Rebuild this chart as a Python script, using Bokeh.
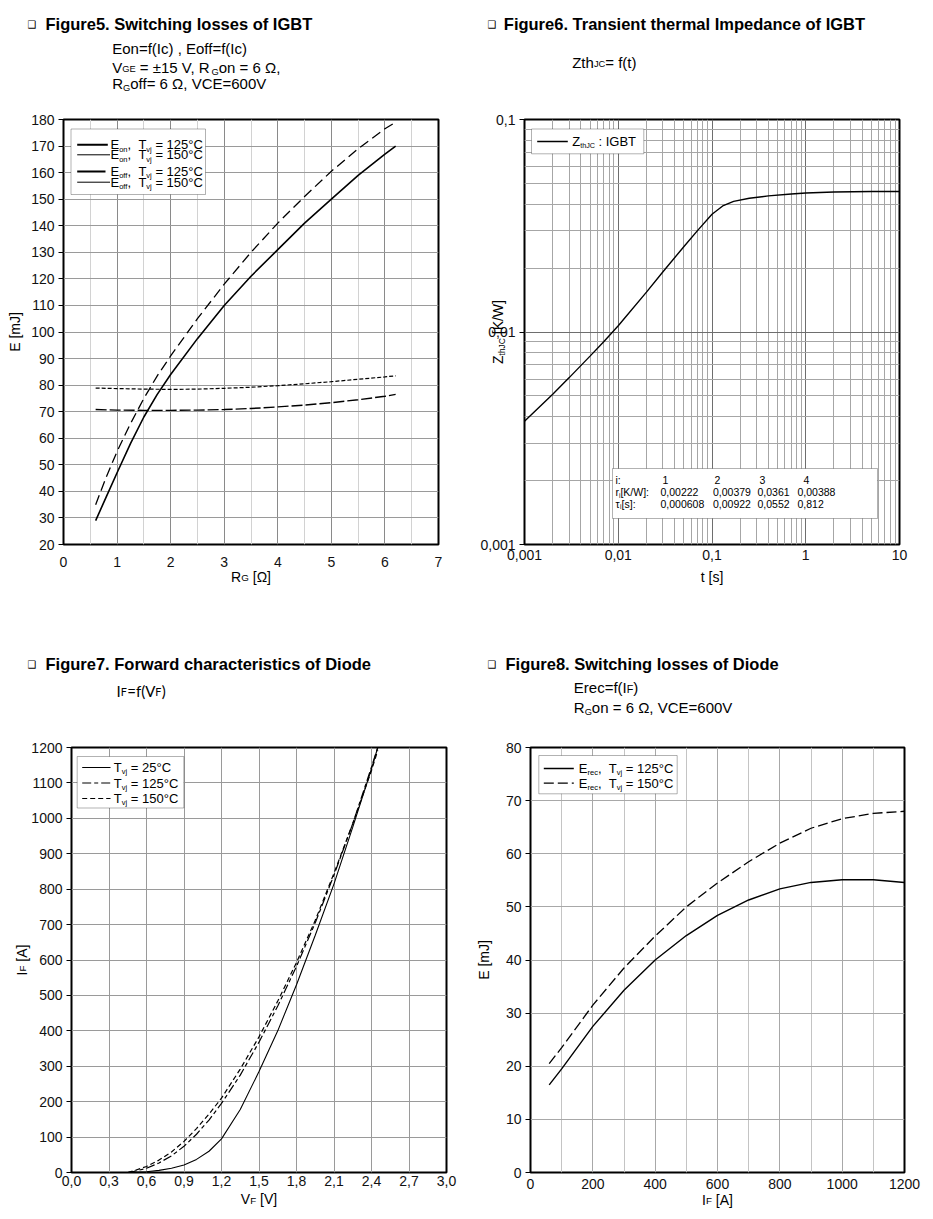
import math
from bokeh.plotting import figure
from bokeh.models import Label, BoxAnnotation, FixedTicker, CustomJSTickFormatter, GridBox
from bokeh.layouts import column, row
from bokeh.embed import file_html
from bokeh.resources import INLINE

# ---------------- data ----------------
# Figure 5 : switching losses of IGBT vs RG
rg_on = [0.6, 0.8, 1.0, 1.25, 1.5, 1.75, 2.0, 2.5, 3.0, 3.5, 4.0, 4.5, 5.0, 5.5, 6.0, 6.2]
eon_125 = [29, 38, 47, 58, 68, 76.5, 84, 97.5, 110, 121, 131, 141, 150, 159, 167, 170]
eon_150 = [35, 45.5, 55, 65.5, 75, 83.5, 91, 105, 118, 130, 141, 151, 160.5, 169, 176.5, 179]
rg_off = [0.6, 1.0, 1.5, 2.0, 2.5, 3.0, 3.5, 4.0, 4.5, 5.0, 5.5, 6.0, 6.2]
eoff_125 = [70.8, 70.6, 70.5, 70.5, 70.6, 70.8, 71.2, 71.8, 72.5, 73.4, 74.5, 75.8, 76.5]
eoff_150 = [78.9, 78.7, 78.5, 78.4, 78.5, 78.8, 79.2, 79.8, 80.5, 81.3, 82.2, 83.1, 83.5]
f5_xticks = [0, 1, 2, 3, 4, 5, 6, 7]
f5_xlabels = ["0", "1", "2", "3", "4", "5", "6", "7"]
f5_xminor = [0.5, 1.5, 2.5, 3.5, 4.5, 5.5, 6.5]
f5_yticks = [20, 30, 40, 50, 60, 70, 80, 90, 100, 110, 120, 130, 140, 150, 160, 170, 180]
f5_ylabels = [str(v) for v in f5_yticks]

# Figure 6 : transient thermal impedance
t_s = [0.001, 0.002, 0.003, 0.005, 0.007, 0.01, 0.02, 0.03, 0.05, 0.07, 0.1, 0.13, 0.17, 0.25, 0.4,
       0.7, 1, 2, 5, 10]
zth = [0.0038, 0.0051, 0.0061, 0.0077, 0.0090, 0.0107, 0.0154, 0.0192, 0.0252, 0.0300, 0.0358, 0.0392,
       0.0412, 0.0426, 0.0437, 0.0446, 0.0451, 0.0456, 0.0458, 0.0458]
f6_xticks = [0.001, 0.01, 0.1, 1, 10]
f6_xlabels = ["0,001", "0,01", "0,1", "1", "10"]
f6_yticks = [0.001, 0.01, 0.1]
f6_ylabels = ["0,001", "0,01", "0,1"]
f6_mult = [2, 3, 4, 5, 6, 7, 8, 9]
tab_i = ["1", "2", "3", "4"]
tab_r = ["0,00222", "0,00379", "0,0361", "0,00388"]
tab_tau = ["0,000608", "0,00922", "0,0552", "0,812"]

# Figure 7 : forward characteristics of diode
vf = [0.45, 0.5, 0.6, 0.7, 0.8, 0.9, 1.0, 1.1, 1.2, 1.35, 1.5, 1.65, 1.8, 1.95, 2.1, 2.25, 2.4, 2.45]
if_25 = [0, 0.5, 2, 6, 12, 21, 37, 60, 95, 178, 285, 400, 530, 670, 815, 975, 1140, 1200]
if_125 = [0, 3, 12, 27, 47, 74, 108, 148, 195, 275, 368, 470, 582, 705, 840, 985, 1145, 1200]
if_150 = [0, 5, 17, 35, 58, 88, 124, 165, 210, 292, 383, 484, 593, 712, 845, 985, 1135, 1192]
f7_xticks = [0.0, 0.3, 0.6, 0.9, 1.2, 1.5, 1.8, 2.1, 2.4, 2.7, 3.0]
f7_xlabels = ["0,0", "0,3", "0,6", "0,9", "1,2", "1,5", "1,8", "2,1", "2,4", "2,7", "3,0"]
f7_yticks = [0, 100, 200, 300, 400, 500, 600, 700, 800, 900, 1000, 1100, 1200]
f7_ylabels = [str(v) for v in f7_yticks]

# Figure 8 : switching losses of diode
if_a = [60, 100, 200, 300, 400, 500, 600, 700, 800, 900, 1000, 1100, 1200]
erec_125 = [16.5, 19.5, 27.5, 34.3, 40.0, 44.6, 48.4, 51.3, 53.4, 54.6, 55.1, 55.1, 54.6]
erec_150 = [20.5, 23.5, 31.5, 38.5, 44.5, 50.0, 54.5, 58.5, 62.0, 64.8, 66.6, 67.6, 68.0]
f8_xticks = [0, 200, 400, 600, 800, 1000, 1200]
f8_xlabels = [str(v) for v in f8_xticks]
f8_xminor = [100, 300, 500, 700, 900, 1100]
f8_yticks = [0, 10, 20, 30, 40, 50, 60, 70, 80]
f8_ylabels = [str(v) for v in f8_yticks]

FONT = "Liberation Sans"
PAGE_W, PAGE_H = 933, 1215
NBSP = "\u00a0"

# approximate glyph advance widths (Arial/Liberation Sans, per 1000 em)
W = {' ': 278, '!': 278, '(': 333, ')': 333, ',': 278, '-': 333, '.': 278, '/': 278, ':': 278,
     '=': 584, '°': 400, '±': 584, 'Ω': 768, '[': 278, ']': 278, 'τ': 440,
     'A': 667, 'B': 667, 'C': 722, 'D': 722, 'E': 667, 'F': 611, 'G': 778, 'I': 278, 'J': 500,
     'K': 667, 'R': 722, 'T': 611, 'V': 667, 'W': 944, 'Z': 611,
     'a': 556, 'c': 500, 'e': 556, 'f': 278, 'h': 556, 'i': 222, 'j': 222, 'm': 833, 'n': 556,
     'o': 556, 'r': 333, 's': 500, 't': 278, 'v': 500}


def tw(s, fs, k=1.0):
    return sum(W.get(c, 556) for c in s) * fs / 1000.0 * k


def spec(fx0, fy0, fx1, fy1, xr, yr, xlog=False, ylog=False):
    return dict(fx0=fx0, fy0=fy0, fx1=fx1, fy1=fy1, xr=xr, yr=yr, xlog=xlog, ylog=ylog)


# overlay spec: data coordinates == page pixels
SO = spec(0, 0, PAGE_W, PAGE_H, (0, PAGE_W), (PAGE_H, 0))


def to_data(s, px, py):
    fx = (px - s['fx0']) / (s['fx1'] - s['fx0'])
    fy = (s['fy1'] - py) / (s['fy1'] - s['fy0'])
    x0, x1 = s['xr']
    y0, y1 = s['yr']
    if s['xlog']:
        x = 10 ** (math.log10(x0) + fx * (math.log10(x1) - math.log10(x0)))
    else:
        x = x0 + fx * (x1 - x0)
    if s['ylog']:
        y = 10 ** (math.log10(y0) + fy * (math.log10(y1) - math.log10(y0)))
    else:
        y = y0 + fy * (y1 - y0)
    return x, y


def text(p, s, px, py, t, size, bold=False, font=FONT, align="left"):
    x, y = to_data(s, px, py)
    p.add_layout(Label(x=x, y=y, text=t, text_font=font, text_font_size=f"{size}px",
                       text_font_style="bold" if bold else "normal", text_color="black",
                       text_baseline="middle", text_align=align))


def rich(p, s, px, py, segs, size, align="left", vertical=False, font=FONT, sub=0.62, wk=1.0):
    """segs: (text, kind) kind n=normal, s=lowered small, r=small on baseline.
    (px, py) = start (or centre) of the text line, py = vertical middle of the normal-size text."""
    sizes = [size if k == "n" else size * sub for _, k in segs]
    widths = [tw(t, fs, wk) for (t, _), fs in zip(segs, sizes)]
    total = sum(widths)
    pos = 0.0 if align == "left" else -total / 2.0
    for (t, k), fs, w in zip(segs, sizes, widths):
        down = 0.35 * (size - fs)
        if k == "s":
            down += size * 0.18
        if vertical:
            x, y = to_data(s, px + down, py - pos)
            ang = math.pi / 2
        else:
            x, y = to_data(s, px + pos, py + down)
            ang = 0.0
        p.add_layout(Label(x=x, y=y, text=t.replace(" ", NBSP), text_font=font,
                           text_font_size=f"{fs:.1f}px", text_color="black",
                           text_baseline="middle", text_align="left", angle=ang))
        pos += w


def fmt(vals, labs):
    return CustomJSTickFormatter(args=dict(vals=vals, labs=labs), code="""
for (let i = 0; i < vals.length; i++) {
  if (Math.abs(tick - vals[i]) <= 1e-9 * Math.max(1e-3, Math.abs(vals[i]))) return labs[i];
}
return "";
""")


def make_fig(w, h, left, right, top, bottom, xr, yr, xlog=False, ylog=False):
    p = figure(width=w, height=h, x_range=xr, y_range=yr,
               x_axis_type="log" if xlog else "linear",
               y_axis_type="log" if ylog else "linear",
               output_backend="svg", toolbar_location=None,
               min_border_left=left, min_border_right=right,
               min_border_top=top, min_border_bottom=bottom)
    p.outline_line_color = "black"
    p.outline_line_width = 2
    p.background_fill_color = "white"
    p.border_fill_color = "white"
    return p


def style_axes(p, xt, xl, yt, yl, xminor=None, yminor=None, xstand=4):
    p.xaxis.ticker = FixedTicker(ticks=xt, minor_ticks=xminor or [])
    p.yaxis.ticker = FixedTicker(ticks=yt, minor_ticks=yminor or [])
    p.xaxis.formatter = fmt(xt, xl)
    p.yaxis.formatter = fmt(yt, yl)
    for ax in (p.xaxis[0], p.yaxis[0]):
        ax.axis_line_color = None
        ax.minor_tick_line_color = None
        ax.major_label_text_font = FONT
        ax.major_label_text_font_size = "14px"
        ax.major_label_text_color = "#111111"
    p.xaxis.major_tick_line_color = None
    p.xaxis.major_tick_out = 0
    p.xaxis.major_tick_in = 0
    p.xaxis.major_label_standoff = xstand
    p.yaxis.major_tick_line_color = "black"
    p.yaxis.major_tick_out = 5
    p.yaxis.major_tick_in = 0
    p.yaxis.major_label_standoff = 4


def legend_box(p, s, x0, y0, x1, y1):
    l, t = to_data(s, x0, y0)
    r, b = to_data(s, x1, y1)
    p.add_layout(BoxAnnotation(left=l, right=r, top=t, bottom=b, fill_color="white", fill_alpha=1.0,
                               line_color="black", line_width=1, level="underlay"))


def legend_line(p, s, x0, x1, y, width=1.0, dash="solid"):
    a = to_data(s, x0, y)
    b = to_data(s, x1, y)
    p.line([a[0], b[0]], [a[1], b[1]], line_color="black", line_width=width, line_dash=dash)


# transparent overlay figure carrying all texts that lie outside the plot frames
ov = figure(width=PAGE_W, height=PAGE_H, x_range=(0, PAGE_W), y_range=(PAGE_H, 0),
            output_backend="svg", toolbar_location=None,
            x_axis_location=None, y_axis_location=None, min_border=0)
ov.grid.visible = False
ov.outline_line_color = None
ov.background_fill_color = None
ov.border_fill_color = None

# ---------------- Figure 5 ----------------
s5 = spec(63, 119, 438, 544, (0, 7), (20, 180))
p5 = make_fig(474, 608, 63, 36, 119, 64, (0, 7), (20, 180))
style_axes(p5, f5_xticks, f5_xlabels, f5_yticks, f5_ylabels, xminor=f5_xminor, xstand=8)
p5.xgrid.grid_line_color = "#8a8a8a"
p5.xgrid.minor_grid_line_color = "#d2d2d2"
p5.ygrid.grid_line_color = "#9a9a9a"
p5.line(rg_on, eon_125, line_color="black", line_width=1.6)
p5.line(rg_on, eon_150, line_color="black", line_width=1.3, line_dash="10 5")
p5.line(rg_off, eoff_125, line_color="black", line_width=1.4, line_dash="11 3")
p5.line(rg_off, eoff_150, line_color="black", line_width=1.2, line_dash="4 2")

text(ov, SO, 27, 24, "❑", 10, font="DejaVu Sans")
text(ov, SO, 45, 23.3, "Figure5. Switching losses of IGBT", 16.5, bold=True)
text(ov, SO, 111.7, 48.3, "Eon=f(Ic) , Eoff=f(Ic)", 15)
rich(ov, SO, 111.7, 66.7, [("V", "n"), ("GE", "r"), (" = ±15 V, R", "n"), ("G", "s"), ("on = 6 Ω,", "n")], 15)
rich(ov, SO, 111.7, 83.3, [("R", "n"), ("G", "s"), ("off= 6 Ω, VCE=600V", "n")], 15)
rich(ov, SO, 250.7, 576, [("R", "n"), ("G", "r"), (" [Ω]", "n")], 14, align="center", sub=0.7)
rich(ov, SO, 14, 331.5, [("E [mJ]", "n")], 14, align="center", vertical=True)

legend_box(p5, s5, 70.5, 128.5, 205, 194)
f5_rows = [(144.3, 2.0, 107.3, "on", "125"), (154.3, 1.0, 109.5, "on", "150"),
           (171.0, 2.0, 105.0, "off", "125"), (181.7, 1.0, 109.5, "off", "150")]
for cy, lw, xe, sb, tv in f5_rows:
    legend_line(p5, s5, 76.7, xe, cy, width=lw)
    rich(p5, s5, 110, cy, [("E", "n"), (sb, "s"), (",  T", "n"), ("vj", "s"), (f" = {tv}°C", "n")], 13, sub=0.58)

# ---------------- Figure 6 ----------------
s6 = spec(524, 119, 899, 544, (0.001, 10), (0.001, 0.1), xlog=True, ylog=True)
p6 = make_fig(459, 608, 50, 34, 119, 64, (0.001, 10), (0.001, 0.1), xlog=True, ylog=True)
f6_xminor = [m * d for d in f6_xticks[:-1] for m in f6_mult]
f6_yminor = [m * d for d in f6_yticks[:-1] for m in f6_mult]
style_axes(p6, f6_xticks, f6_xlabels, f6_yticks, f6_ylabels, xminor=f6_xminor, yminor=f6_yminor, xstand=1)
for g in (p6.xgrid[0], p6.ygrid[0]):
    g.grid_line_color = "#6e6e6e"
    g.minor_grid_line_color = "#a6a6a6"
p6.line(t_s, zth, line_color="black", line_width=1.4)

text(ov, SO, 487, 24, "❑", 10, font="DejaVu Sans")
text(ov, SO, 503.3, 23.3, "Figure6. Transient thermal Impedance of IGBT", 16.5, bold=True)
rich(ov, SO, 571.7, 61.7, [("Zth", "n"), ("JC", "r"), ("= f(t)", "n")], 15)
rich(ov, SO, 711.5, 576, [("t [s]", "n")], 14, align="center")
rich(ov, SO, 497, 331.5, [("Z", "n"), ("thJC", "s"), (" [K/W]", "n")], 14, align="center", vertical=True, sub=0.6)

legend_box(p6, s6, 531, 128.5, 643.3, 153.3)
legend_line(p6, s6, 536.7, 567.3, 141, width=1.3)
rich(p6, s6, 571.7, 141, [("Z", "n"), ("thJC", "s"), (" : IGBT", "n")], 13, sub=0.55)

legend_box(p6, s6, 612, 468, 877, 518)
tab_hdr_x = [662, 714, 759, 803]
tab_val_x = [660, 712.5, 757, 797]
rich(p6, s6, 615, 479.6, [("i:", "n")], 10.5)
rich(p6, s6, 615, 491.3, [("r", "n"), ("i", "s"), ("[K/W]:", "n")], 10.5)
rich(p6, s6, 615, 503.0, [("τ", "n"), ("i", "s"), ("[s]:", "n")], 10.5)
for k in range(4):
    rich(p6, s6, tab_hdr_x[k], 479.6, [(tab_i[k], "n")], 10.5)
    rich(p6, s6, tab_val_x[k], 491.3, [(tab_r[k], "n")], 10.5)
    rich(p6, s6, tab_val_x[k], 503.0, [(tab_tau[k], "n")], 10.5)

# ---------------- Figure 7 ----------------
s7 = spec(71, 747, 446, 1172, (0, 3), (0, 1200))
p7 = make_fig(474, 607, 71, 28, 139, 43, (0, 3), (0, 1200))
style_axes(p7, f7_xticks, f7_xlabels, f7_yticks, f7_ylabels, xstand=3)
p7.xgrid.grid_line_color = "#9a9a9a"
p7.ygrid.grid_line_color = "#9a9a9a"
p7.line(vf, if_25, line_color="black", line_width=1.1)
p7.line(vf, if_125, line_color="black", line_width=1.2, line_dash="9 3 4 3")
p7.line(vf, if_150, line_color="black", line_width=1.2, line_dash="5 3")

text(ov, SO, 27, 664, "❑", 10, font="DejaVu Sans")
text(ov, SO, 45, 663.3, "Figure7. Forward characteristics of Diode", 16.5, bold=True)
rich(ov, SO, 116, 690, [("I", "n"), ("F", "r"), ("=f(V", "n"), ("F", "r"), (")", "n")], 15, font="Lato", wk=1.0, sub=0.72)
rich(ov, SO, 258.5, 1198.3, [("V", "n"), ("F", "r"), (" [V]", "n")], 14, align="center", sub=0.7)
rich(ov, SO, 21, 959.5, [("I", "n"), ("F", "r"), (" [A]", "n")], 14, align="center", vertical=True, sub=0.7)

legend_box(p7, s7, 76.7, 756, 183.3, 807.5)
f7_rows = [(767.0, "solid", "25"), (782.5, "9 3 4 3", "125"), (798.0, "5 3", "150")]
for cy, dash, tv in f7_rows:
    legend_line(p7, s7, 81.7, 110, cy, width=1.1, dash=dash)
    rich(p7, s7, 113.3, cy, [("T", "n"), ("vj", "s"), (f" = {tv}°C", "n")], 13, sub=0.58)

# ---------------- Figure 8 ----------------
s8 = spec(530, 747, 904, 1172, (0, 1200), (0, 80))
p8 = make_fig(459, 607, 56, 29, 139, 43, (0, 1200), (0, 80))
style_axes(p8, f8_xticks, f8_xlabels, f8_yticks, f8_ylabels, xminor=f8_xminor, xstand=2)
p8.xgrid.grid_line_color = "#a8a8a8"
p8.xgrid.minor_grid_line_color = "#c4c4c4"
p8.ygrid.grid_line_color = "#a8a8a8"
p8.line(if_a, erec_125, line_color="black", line_width=1.4)
p8.line(if_a, erec_150, line_color="black", line_width=1.3, line_dash="10 4")

text(ov, SO, 487, 664, "❑", 10, font="DejaVu Sans")
text(ov, SO, 505, 663.3, "Figure8. Switching losses of Diode", 16.5, bold=True)
rich(ov, SO, 573.3, 686.7, [("Erec=f(I", "n"), ("F", "r"), (")", "n")], 15, sub=0.72)
rich(ov, SO, 573.3, 707.3, [("R", "n"), ("G", "s"), ("on = 6 Ω, VCE=600V", "n")], 15)
rich(ov, SO, 717, 1199, [("I", "n"), ("F", "r"), (" [A]", "n")], 14, align="center", sub=0.7)
rich(ov, SO, 483, 959.5, [("E [mJ]", "n")], 14, align="center", vertical=True)

legend_box(p8, s8, 538.3, 755, 676.7, 793.3)
f8_rows = [(768.0, "solid", "125"), (782.7, "10 4", "150")]
for cy, dash, tv in f8_rows:
    legend_line(p8, s8, 543.3, 573.3, cy, width=1.3, dash=dash)
    rich(p8, s8, 578.3, cy, [("E", "n"), ("rec", "s"), (",  T", "n"), ("vj", "s"), (f" = {tv}°C", "n")], 13, sub=0.58)

charts = column(row(p5, p6), row(p7, p8))
page = GridBox(children=[(charts, 0, 0), (ov, 0, 0)])
open("out.html", "w").write(file_html(page, INLINE))
